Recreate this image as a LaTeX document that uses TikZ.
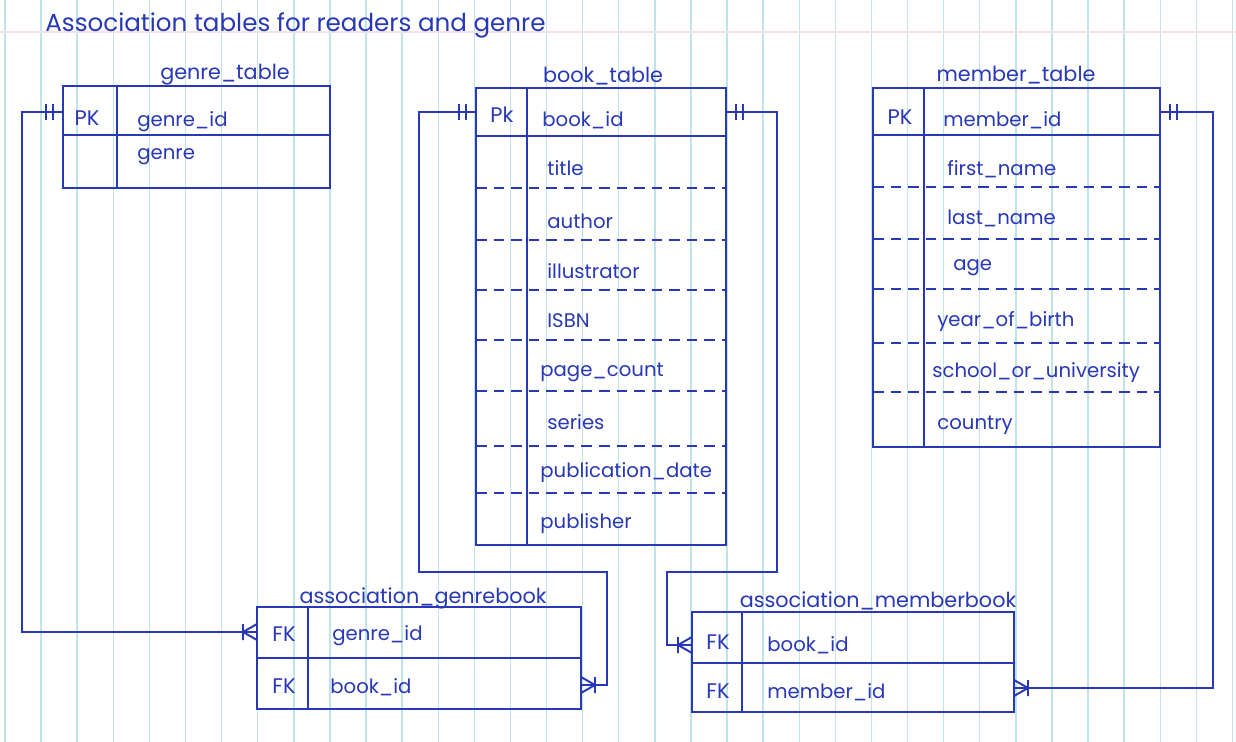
\documentclass[tikz,border=0pt]{standalone}
\usepackage{fontspec}
\setmainfont{Poppins}
\usepackage{tikz}
\usetikzlibrary{arrows}
\definecolor{ink}{RGB}{40,56,182}
\definecolor{gridblue}{RGB}{192,228,234}
\definecolor{marginpink}{RGB}{246,226,230}
\tikzstyle{tbl} = [draw=ink, line width=1.1pt]
\tikzstyle{rowline} = [draw=ink, line width=1pt]
\tikzstyle{dashrow} = [draw=ink, line width=1pt, dash pattern=on 6pt off 4pt]
\tikzstyle{rel} = [draw=ink, line width=1.1pt]
\tikzstyle{fld} = [text=ink, anchor=west, inner sep=0pt, font=\fontsize{11.2}{13}\selectfont]
\tikzstyle{keytxt} = [text=ink, inner sep=0pt, font=\fontsize{12}{14}\selectfont]
\tikzstyle{tname} = [text=ink, inner sep=0pt, font=\fontsize{11.8}{13}\selectfont]
\tikzset{
  onebar/.pic={\draw[rel] (-10,-8) -- (-10,8) (-17,-8) -- (-17,8);},
  manybar/.pic={\draw[rel] (-14,-8) -- (-14,8) (-14,0) -- (0,-8) (-14,0) -- (0,8);}
}

\begin{document}
\begin{tikzpicture}[x=0.02cm, y=-0.02cm]
	\useasboundingbox (0,0) rectangle (1236,742);
	\fill[white] (0,0) rectangle (1236,742);

	% ------------------- Paper ------------------- %
	\foreach \gx in {0,...,34}
		\draw[gridblue, line width=0.8pt] (5+36.1*\gx,0) -- (5+36.1*\gx,742);
	\draw[marginpink, line width=0.6pt] (0,32) -- (1236,32);

	\node[tname, anchor=west, font=\fontsize{14}{16}\selectfont] (title) at (45,25) {Association tables for readers and genre};

	% ------------------- genre_table ------------------- %
	\node[tname] (genrelbl) at (225,75) {genre\_table};
	\draw[tbl] (63,86) rectangle (330,188);
	\draw[rowline] (117,86) -- (117,188);
	\draw[rowline] (63,135) -- (330,135);
	\node[keytxt] (genrepk) at (87,118) {PK};
	\node[fld] (genreid) at (137,122) {genre\_id};
	\node[fld] (genrecol) at (137,157) {genre};
	\coordinate (genrePK) at (63,112);

	% ------------------- book_table ------------------- %
	\node[tname] (booklbl) at (603,76) {book\_table};
	\draw[tbl] (476,88) rectangle (726,545);
	\draw[rowline] (527,88) -- (527,545);
	\draw[rowline] (476,136) -- (726,136);
	\foreach \ry in {188,240,290,340,391,446,493}
		\draw[dashrow] (476,\ry) -- (726,\ry);
	\node[keytxt] (bookpk) at (502,115) {Pk};
	\node[fld] (bookid) at (542,120) {book\_id};
	\node[fld] (booktitle) at (547,168) {title};
	\node[fld] (bookauthor) at (547,221) {author};
	\node[fld] (bookillus) at (547,271) {illustrator};
	\node[fld] (bookisbn) at (547,321) {ISBN};
	\node[fld] (bookpages) at (540,372) {page\_count};
	\node[fld] (bookseries) at (547,422) {series};
	\node[fld] (bookdate) at (540,473) {publication\_date};
	\node[fld] (bookpub) at (540,524) {publisher};
	\coordinate (bookPKw) at (476,112);
	\coordinate (bookPKe) at (726,112);

	% ------------------- member_table ------------------- %
	\node[tname] (memberlbl) at (1016,75) {member\_table};
	\draw[tbl] (873,88) rectangle (1160,447);
	\draw[rowline] (924,88) -- (924,447);
	\draw[rowline] (873,135) -- (1160,135);
	\foreach \ry in {187,239,289,343,392}
		\draw[dashrow] (873,\ry) -- (1160,\ry);
	\node[keytxt] (memberpk) at (900,117) {PK};
	\node[fld] (memberid) at (943,120) {member\_id};
	\node[fld] (memberfirst) at (947,169) {first\_name};
	\node[fld] (memberlast) at (947,218) {last\_name};
	\node[fld] (memberage) at (953,268) {age};
	\node[fld] (memberyear) at (937,322) {year\_of\_birth};
	\node[fld] (memberschool) at (932,373) {school\_or\_university};
	\node[fld] (membercountry) at (937,425) {country};
	\coordinate (memberPK) at (1160,112);

	% ------------------- association_genrebook ------------------- %
	\node[tname] (agblbl) at (423,598) {association\_genrebook};
	\draw[tbl] (257,607) rectangle (581,709);
	\draw[rowline] (308,607) -- (308,709);
	\draw[rowline] (257,658) -- (581,658);
	\node[keytxt] (agbfk1) at (284,634) {FK};
	\node[fld] (agbgenre) at (332,636) {genre\_id};
	\node[keytxt] (agbfk2) at (284,686) {FK};
	\node[fld] (agbbook) at (330,687) {book\_id};
	\coordinate (agbG) at (257,632);
	\coordinate (agbB) at (581,685);

	% ------------------- association_memberbook ------------------- %
	\node[tname] (amblbl) at (878,601) {association\_memberbook};
	\draw[tbl] (692,612) rectangle (1014,712);
	\draw[rowline] (742,612) -- (742,712);
	\draw[rowline] (692,663) -- (1014,663);
	\node[keytxt] (ambfk1) at (718,642) {FK};
	\node[fld] (ambbook) at (767,645) {book\_id};
	\node[keytxt] (ambfk2) at (718,691) {FK};
	\node[fld] (ambmember) at (767,692) {member\_id};
	\coordinate (ambB) at (692,645);
	\coordinate (ambM) at (1014,688);

	% ------------------- Relations ------------------- %
	\draw[rel] (genrePK) -| (22,632) -- (agbG);
	\draw[rel] (bookPKw) -| (419,572) -| (607,685) -- (agbB);
	\draw[rel] (bookPKe) -| (777,572) -| (667,645) -- (ambB);
	\draw[rel] (memberPK) -| (1213,688) -- (ambM);

	\pic at (genrePK) {onebar};
	\pic at (bookPKw) {onebar};
	\pic[rotate=180] at (bookPKe) {onebar};
	\pic[rotate=180] at (memberPK) {onebar};
	\pic at (agbG) {manybar};
	\pic[rotate=180] at (agbB) {manybar};
	\pic at (ambB) {manybar};
	\pic[rotate=180] at (ambM) {manybar};
\end{tikzpicture}
\end{document}
